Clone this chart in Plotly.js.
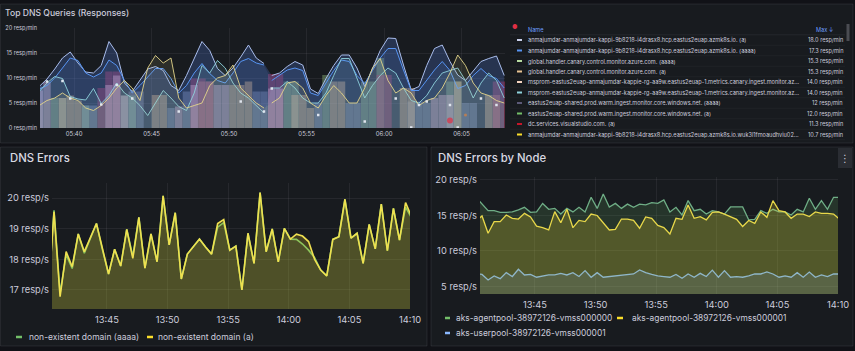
<!DOCTYPE html>
<html><head><meta charset="utf-8">
<script src="https://cdn.plot.ly/plotly-3.0.1.min.js"></script>
<style>html,body{margin:0;padding:0;background:#111217;overflow:hidden}#chart{width:855px;height:351px}</style>
</head><body><div id="chart"></div>
<script>
const _ = null;
// ---------- Top DNS Queries (30 s grid, gap at 05:52:30) ----------
const queryA_L = [8.3, 9.8, 11.8, 14.0, 15.2, 13.0, 11.2, 11.0, 12.5, 17.3, 15.0, 9.0, 7.3, 9.5, 11.8, 12.3, 11.5, 8.5, 7.5, 10.5, 14.0, 17.3, 15.5, 11.9, 10.5, 12.0, 14.2, 16.6, 14.0, 12.9];
const queryA_R = [10.5, 11.0, 12.3, 13.3, 12.6, 7.8, 6.9, 9.9, 12.5, 14.6, 14.6, 12.0, 8.3, 12.0, 15.5, 18.0, 17.9, 12.6, 7.6, 8.3, 12.5, 15.9, 16.6, 13.3, 10.6, 9.5, 11.5, 13.3, 13.9, 14.4, 10.5];
const queryB_L = [7.8, 8.5, 10.0, 12.0, 14.0, 13.5, 11.0, 10.2, 11.0, 13.6, 12.5, 9.5, 7.0, 8.5, 10.3, 11.9, 11.9, 9.9, 7.0, 8.5, 11.0, 12.9, 10.9, 9.5, 9.0, 11.0, 13.3, 13.9, 13.0, 12.6];
const queryB_R = [9.5, 10.5, 11.6, 12.0, 11.5, 7.0, 6.5, 9.0, 11.5, 13.6, 13.3, 10.5, 8.9, 11.5, 14.0, 15.9, 15.9, 11.6, 7.5, 7.5, 9.5, 11.6, 13.3, 11.5, 7.9, 8.5, 10.5, 11.9, 10.5, 9.9, 8.0];
const querySvc_L = [7.3, 9.0, 10.3, 9.9, 6.3, 5.8, 5.6, 7.9, 4.9, 6.5, 9.0, 7.0, 6.0, 4.5, 2.5, 5.0, 7.5, 6.0, 4.3, 3.5, 7.0, 12.5, 11.0, 13.5, 12.0, 9.0, 7.0, 6.0, 4.5, 3.0];
const querySvc_R = [8.0, 8.0, 9.3, 8.0, 6.0, 5.0, 5.0, 7.0, 10.5, 13.9, 13.9, 10.0, 6.0, 8.5, 10.5, 12.0, 11.0, 8.0, 5.5, 5.0, 6.5, 9.0, 11.0, 11.5, 12.0, 9.5, 6.0, 9.0, 11.0, 9.5, 6.0];
const queryGlb_L = [4.5, 5.5, 6.0, 7.0, 6.0, 5.5, 4.0, 3.5, 4.5, 6.0, 8.0, 9.5, 8.0, 5.5, 12.0, 14.5, 13.0, 14.0, 6.0, 4.0, 4.5, 5.0, 8.5, 10.0, 10.5, 12.6, 8.0, 6.5, 5.0, 4.0];
const queryGlb_R = [5.0, 6.0, 9.0, 9.3, 8.0, 5.0, 4.0, 6.5, 8.5, 7.0, 5.0, 5.0, 8.0, 12.0, 13.9, 9.5, 7.0, 8.0, 7.0, 4.5, 5.5, 6.0, 8.0, 11.0, 14.6, 12.5, 9.0, 7.0, 6.5, 5.5, 5.0];
const barPink_L = [7.5, 9.2, _, _, _, _, _, _, _, 8.6, 10.5, 6.5, _, _, _, _, _, _, 4.3, _, 8.6, _, _, 8.6, 8.6, _, _, _, _, _];
const barPink_R = [7.9, 7.9, _, _, _, _, _, _, _, _, _, _, _, _, _, _, _, _, _, _, _, 6.0, 6.6, 6.6, _, _, _, _, _, _, _];
const barRed_L = [_, _, _, _, _, _, _, _, 8.0, 11.3, 11.3, _, _, _, _, _, _, _, _, _, 9.9, 9.9, 9.3, _, _, _, _, _, _, _];
const barRed_R = [10.8, 10.8, _, _, _, _, _, _, _, _, _, _, _, _, 10.6, 10.6, _, _, _, _, _, _, _, _, _, _, _, _, _, 9.3, 9.3];
const barTan_L = [_, _, _, 6.0, 6.5, 5.5, _, _, _, _, _, _, _, _, _, 6.6, 6.6, _, _, _, _, 9.3, 9.3, _, _, 8.6, 8.6, 9.3, _, _];
const barTan_R = [_, _, _, 6.6, 6.6, 4.0, _, _, 9.3, 9.3, _, _, _, _, _, _, _, 8.0, 8.0, _, _, _, _, _, 9.3, _, _, _, 6.6, 6.6, _];
const barSage_L = [_, _, 6.0, 6.0, _, _, 4.5, _, _, _, _, 6.5, 6.5, _, _, _, _, _, _, _, _, _, _, _, _, _, _, _, _, _];
const barSage_R = [_, _, 9.3, 9.3, _, _, _, 10.6, _, _, _, _, 9.3, 9.3, 14.0, _, _, _, _, _, _, _, _, 9.3, 9.3, _, _, _, _, _, _];
const barGrey_L = [8.3, _, _, _, _, _, 4.5, 4.5, _, _, _, _, 7.3, 7.3, _, _, _, 4.0, _, 7.3, _, _, _, _, _, _, _, _, 7.3, 7.3];
const barGrey_R = [_, _, _, _, _, _, 5.0, _, _, _, 5.0, 5.0, _, _, _, _, _, _, 5.3, 5.3, 5.0, _, _, _, _, 5.0, 5.0, _, _, _, _];
const pts_L = [_, 9.3, _, 9.4, 5.9, _, _, _, 4.7, _, 8.6, _, 5.9, _, _, _, _, _, 3.3, _, _, _, _, _, _, _, 5.3, _, _, 3.3];
const pts_R = [7.9, _, _, _, _, _, 2.6, _, _, _, _, _, 1.3, _, _, _, 5.9, _, 0.1, 4.6, 5.3, _, _, 4.6, 0.1, _, _, 5.9, _, 4.6, _];
const extraPtTimes = ['2024-01-01 06:04:15', '2024-01-01 06:05:15'];
const extraPtVals = [1.5, 2.6];
const topTicks = [0, 5, 10, 15, 20];

// legend table of the top panel
const tableNames = [
  'anmajumdar-anmajumdar-kappi-9b8218-i4drasx8.hcp.eastus2euap.azmk8s.io. (a)',
  'anmajumdar-anmajumdar-kappi-9b8218-i4drasx8.hcp.eastus2euap.azmk8s.io. (aaaa)',
  'global.handler.canary.control.monitor.azure.com. (aaaa)',
  'global.handler.canary.control.monitor.azure.com. (a)',
  'msprom-eastus2euap-anmajumdar-kappie-rg-aa9w.eastus2euap-1.metrics.canary.ingest.monitor.az...',
  'msprom-eastus2euap-anmajumdar-kappie-rg-aa9w.eastus2euap-1.metrics.canary.ingest.monitor.az...',
  'eastus2euap-shared.prod.warm.ingest.monitor.core.windows.net. (aaaa)',
  'eastus2euap-shared.prod.warm.ingest.monitor.core.windows.net. (a)',
  'dc.services.visualstudio.com. (a)',
  'anmajumdar-anmajumdar-kappi-9b8218-i4drasx8.hcp.eastus2euap.azmk8s.io.wuk3l1fmoaudhviu02...'
];
const tableMax = ['18.0 resp/min', '17.3 resp/min', '15.3 resp/min', '15.3 resp/min', '14.0 resp/min', '14.0 resp/min', '12 resp/min', '12.0 resp/min', '11.3 resp/min', '10.7 resp/min'];
const tableColors = ['#c9d0ea', '#5794f2', '#b7dba0', '#e8c493', '#f4d3bf', '#8fd3dc', '#5c5a78', '#73bf69', '#c4162a', '#fade2a'];

// ---------- DNS Errors (30 s grid) ----------
const errA = [16.7, 19.55, 16.78, 18.25, 17.76, 18.83, 18.25, 18.7, 19.17, 18.35, 17.52, 18.33, 17.78, 18.98, 18.03, 19.37, 17.71, 18.83, 17.92, 20.07, 18.47, 19.52, 17.36, 18.17, 18.4, 18.66, 18.4, 18.17, 19.17, 19.3, 18.3, 18.43, 17.0, 18.85, 17.87, 20.18, 18.25, 18.99, 17.92, 19.01, 18.66, 18.82, 18.76, 18.58, 18.0, 17.65, 17.46, 18.65, 18.74, 19.96, 18.69, 18.85, 17.87, 19.14, 18.34, 19.8, 18.28, 19.66, 18.63, 19.85, 19.39];
const errAAAA = [16.7, 19.6, 16.9, 18.15, 17.7, 18.83, 18.2, 18.7, 19.17, 18.3, 17.52, 18.33, 17.78, 18.98, 18.1, 19.37, 17.71, 18.83, 17.92, 20.07, 18.47, 19.52, 17.36, 18.17, 18.4, 18.66, 18.4, 18.17, 19.05, 19.2, 18.3, 18.43, 17.0, 18.85, 17.87, 20.18, 18.25, 18.99, 17.92, 19.01, 18.66, 18.65, 18.5, 18.3, 18.05, 17.65, 17.46, 18.65, 18.74, 19.96, 18.69, 18.85, 17.87, 19.14, 18.34, 19.8, 18.28, 19.66, 18.63, 19.7, 19.35];
const errLegend = ['non-existent domain (aaaa)', 'non-existent domain (a)'];
const errTicks = [17, 18, 19, 20];

// ---------- DNS Errors by Node ----------
const node0 = [17.57, 16.7, 15.68, 15.68, 15.45, 15.45, 15.5, 15.8, 16.15, 15.45, 15.5, 16.7, 15.87, 16.0, 15.2, 16.0, 15.5, 16.15, 15.5, 17.56, 16.0, 18.03, 16.2, 16.7, 16.0, 16.6, 16.15, 16.6, 16.5, 16.8, 16.7, 17.18, 15.5, 16.15, 15.07, 17.1, 15.68, 15.87, 15.2, 15.68, 15.5, 15.2, 16.2, 16.2, 16.2, 14.38, 14.46, 15.68, 15.3, 15.87, 15.5, 15.5, 15.07, 15.87, 15.5, 17.42, 15.87, 17.1, 15.87, 17.56, 17.56];
const node1 = [14.2, 14.93, 12.5, 14.13, 14.13, 15.07, 14.6, 14.5, 15.3, 14.8, 13.5, 13.3, 12.96, 15.54, 13.99, 15.87, 13.28, 14.3, 14.13, 15.2, 15.0, 14.0, 12.96, 13.05, 14.5, 14.5, 14.3, 13.2, 14.8, 14.6, 13.6, 13.3, 12.4, 14.6, 14.46, 16.48, 14.6, 14.84, 14.38, 15.45, 15.5, 15.2, 14.84, 14.46, 13.45, 14.3, 13.9, 15.5, 14.74, 17.09, 15.68, 15.5, 14.6, 15.2, 15.2, 14.84, 15.5, 15.3, 15.3, 15.2, 14.46];
const node2 = [6.8, 6.7, 5.92, 6.48, 6.1, 6.95, 6.4, 7.42, 6.62, 6.7, 6.3, 6.5, 6.62, 6.62, 6.85, 6.62, 6.95, 6.4, 7.23, 6.3, 6.95, 6.3, 6.4, 6.48, 6.62, 6.62, 6.76, 7.32, 6.95, 6.7, 6.48, 6.4, 6.3, 6.7, 6.15, 6.76, 6.3, 6.85, 6.4, 7.3, 6.3, 7.23, 6.3, 6.4, 6.3, 6.48, 6.76, 6.76, 7.04, 6.76, 6.3, 6.48, 6.3, 6.95, 6.3, 7.04, 6.3, 6.62, 6.4, 6.76, 6.76];
const nodeLegend = ['aks-agentpool-38972126-vmss000000', 'aks-agentpool-38972126-vmss000001', 'aks-userpool-38972126-vmss000001'];
const nodeTicks = [5, 10, 15, 20];

// ---------- time axes ----------
const pad = n => String(n).padStart(2, '0');
const ts = s => '2024-01-01 ' + pad(Math.floor(s / 3600)) + ':' + pad(Math.floor(s % 3600 / 60)) + ':' + pad(s % 60);
const hms = (h, m, s) => h * 3600 + m * 60 + s;
const topT0 = hms(5, 37, 45);
const topTimes = [];
for (let i = 0; i < 30; i++) topTimes.push(ts(topT0 + 30 * i));
topTimes.push(ts(topT0 + 30 * 29 + 15));
for (let i = 30; i < 61; i++) topTimes.push(ts(topT0 + 30 * i));
const botT0 = hms(13, 40, 8);
const botTimes = [];
for (let i = 0; i < 61; i++) botTimes.push(ts(botT0 + 30 * i));
const join = (l, r) => l.concat([null], r);

// ---------- geometry helpers ----------
const W = 855, H = 351;
const X = p => p / W, Y = p => 1 - p / H;
const FONT = 'Inter, "Open Sans", "DejaVu Sans", sans-serif';
const TXT = '#ccccdc';
const GRID = 'rgba(204,204,220,0.08)';

const traces = [];
function area(x, y, xa, ya, color, fill, width) {
  traces.push({type: 'scatter', mode: 'lines', x: x, y: y, xaxis: xa, yaxis: ya,
    line: {color: color, width: width || 1}, fill: 'tozeroy', fillcolor: fill, hoverinfo: 'skip'});
}
function bars(y, color) {
  traces.push({type: 'bar', x: topTimes, y: y, xaxis: 'x', yaxis: 'y', width: 29000,
    marker: {color: color, line: {width: 0}}, hoverinfo: 'skip'});
}
// top panel
area(topTimes, join(queryA_L, queryA_R), 'x', 'y', '#a9bdec', 'rgba(80,120,210,0.28)', 1);
area(topTimes, join(queryB_L, queryB_R), 'x', 'y', '#5794f2', 'rgba(87,148,242,0.12)', 1);
bars(join(barGrey_L, barGrey_R), 'rgba(150,150,178,0.42)');
bars(join(barSage_L, barSage_R), 'rgba(140,180,120,0.45)');
bars(join(barTan_L, barTan_R), 'rgba(226,172,110,0.5)');
bars(join(barRed_L, barRed_R), 'rgba(165,40,75,0.55)');
bars(join(barPink_L, barPink_R), 'rgba(228,165,185,0.5)');
area(topTimes, join(querySvc_L, querySvc_R), 'x', 'y', '#8fd3dc', 'rgba(143,211,220,0.10)', 0.9);
area(topTimes, join(queryGlb_L, queryGlb_R), 'x', 'y', '#e3d58a', 'rgba(227,213,138,0.10)', 0.9);
traces.push({type: 'scatter', mode: 'markers', x: topTimes, y: join(pts_L, pts_R), xaxis: 'x', yaxis: 'y',
  marker: {color: '#dfe5ee', size: 2.5, symbol: 'square'}, hoverinfo: 'skip'});
traces.push({type: 'scatter', mode: 'markers', x: extraPtTimes, y: extraPtVals, xaxis: 'x', yaxis: 'y',
  marker: {color: ['#e02f44', '#d9823f'], size: [6, 3], line: {width: 0}}, hoverinfo: 'skip'});
// DNS errors
area(botTimes, errAAAA, 'x2', 'y2', '#73bf69', 'rgba(115,191,105,0.12)', 1.6);
area(botTimes, errA, 'x2', 'y2', '#efe050', 'rgba(250,222,42,0.20)', 1.6);
// by node
area(botTimes, node0, 'x3', 'y3', '#6fae86', 'rgba(115,191,105,0.16)', 1.3);
area(botTimes, node1, 'x3', 'y3', '#e8d84a', 'rgba(250,222,42,0.21)', 1.3);
area(botTimes, node2, 'x3', 'y3', '#8fb6c8', 'rgba(138,184,255,0.13)', 1.3);

const shapes = [], annotations = [];
function rect(x0, y0, x1, y1, fill, line) {
  shapes.push({type: 'rect', xref: 'paper', yref: 'paper', x0: X(x0), x1: X(x1), y0: Y(y1), y1: Y(y0),
    fillcolor: fill, line: {color: line || 'rgba(0,0,0,0)', width: line ? 1 : 0}, layer: 'below'});
}
function hline(x0, x1, y, color, width) {
  shapes.push({type: 'line', xref: 'paper', yref: 'paper', x0: X(x0), x1: X(x1), y0: Y(y), y1: Y(y),
    line: {color: color, width: width}, layer: 'above'});
}
function text(t, x, y, size, color, anchor, weight) {
  annotations.push({text: t, xref: 'paper', yref: 'paper', x: X(x), y: Y(y), xanchor: anchor || 'left', yanchor: 'middle',
    showarrow: false, font: {family: FONT, size: size, color: color, weight: weight || 400}});
}
// panels
const PANEL = '#181b1f', BORDER = 'rgba(204,204,220,0.10)';
rect(0.5, 4, 853, 143, PANEL, BORDER);
rect(0.5, 147, 427, 346, PANEL, BORDER);
rect(431, 147, 853, 346, PANEL, BORDER);
rect(838, 148, 852, 168, '#2a2d33');
text('⋮', 845, 158, 10, TXT, 'center');
// titles
text('Top DNS Queries (Responses)', 3, 13.5, 8.6, TXT, 'left', 500);
text('DNS Errors', 8, 158, 11.3, '#d8d9e2', 'left', 500);
text('DNS Errors by Node', 436, 158, 11.3, '#d8d9e2', 'left', 500);
// top table
text('●', 514, 26.5, 6, '#e02f44', 'center');
text('Name', 526, 29.5, 5.6, '#6e9fff');
text('Max ↓', 836, 29.5, 5.6, '#6e9fff', 'right');
rect(846.5, 24, 849.5, 41, '#4a4c52');
hline(510, 845, 34.8, 'rgba(204,204,220,0.13)', 0.6);
for (let r = 0; r < tableNames.length; r++) {
  const yy = 40 + r * 10.5;
  hline(517, 522, yy, tableColors[r], 2);
  text(tableNames[r], 526, yy, 5.6, TXT);
  text(tableMax[r], 845, yy, 5.6, TXT, 'right');
  hline(510, 845, yy + 5.25, 'rgba(204,204,220,0.08)', 0.6);
}
// bottom legends
hline(16, 22, 337, '#73bf69', 2.5);
text(errLegend[0], 26.5, 337, 8.5, TXT);
hline(147, 153, 337, '#fade2a', 2.5);
text(errLegend[1], 156, 337, 8.5, TXT);
hline(445, 450, 318, '#73bf69', 2.5);
text(nodeLegend[0], 454, 318, 8.4, TXT);
hline(617, 623, 318, '#fade2a', 2.5);
text(nodeLegend[1], 629.5, 318, 8.4, TXT);
hline(445, 450, 333, '#8ab8ff', 2.5);
text(nodeLegend[2], 454, 333, 8.4, TXT);

function xax(domain, range, tick0, size, anchor, standoff) {
  return {domain: domain, anchor: anchor, type: 'date', range: range, tickformat: '%H:%M', dtick: 300000, tick0: tick0,
    showgrid: true, gridcolor: GRID, gridwidth: 1, zeroline: false, showline: false, ticks: '',
    tickfont: {family: FONT, size: size, color: TXT}, ticklabelstandoff: standoff, fixedrange: true};
}
function yax(domain, range, vals, suffix, size, anchor) {
  return {domain: domain, anchor: anchor, range: range, tickmode: 'array', tickvals: vals,
    ticktext: vals.map(v => v + suffix),
    showgrid: true, gridcolor: GRID, gridwidth: 1, zeroline: false, showline: false, ticks: '',
    tickfont: {family: FONT, size: size, color: TXT}, ticklabelstandoff: 2, fixedrange: true};
}
const layout = {
  width: W, height: H, margin: {l: 0, r: 0, t: 0, b: 0},
  paper_bgcolor: '#111217', plot_bgcolor: 'rgba(0,0,0,0)', showlegend: false, barmode: 'overlay',
  xaxis: xax([X(40), X(505)], ['2024-01-01 05:37:48', '2024-01-01 06:07:48'], '2024-01-01 05:40:00', 6, 'y', 1),
  yaxis: yax([Y(128), Y(28)], [0, 20], topTicks, ' resp/min', 5.6, 'x'),
  xaxis2: xax([X(52), X(410)], ['2024-01-01 13:40:28', '2024-01-01 14:10:00'], '2024-01-01 13:45:00', 9.3, 'y2', 4),
  yaxis2: yax([Y(309), Y(183)], [16.38, 20.49], errTicks, ' resp/s', 9.3, 'x2'),
  xaxis3: xax([X(480), X(838)], ['2024-01-01 13:40:28', '2024-01-01 14:10:00'], '2024-01-01 13:45:00', 9.3, 'y3', 4),
  yaxis3: yax([Y(294), Y(177)], [3.94, 20.42], nodeTicks, ' resp/s', 9.3, 'x3'),
  shapes: shapes, annotations: annotations
};
Plotly.newPlot('chart', traces, layout, {staticPlot: true, displayModeBar: false});
</script>
</body></html>
